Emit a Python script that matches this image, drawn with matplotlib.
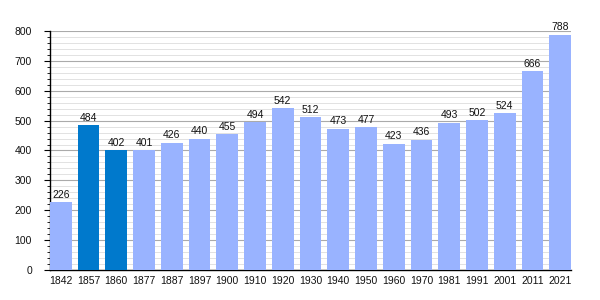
import matplotlib.pyplot as plt
from matplotlib.ticker import MultipleLocator

years = ['1842', '1857', '1860', '1877', '1887', '1897', '1900', '1910', '1920', '1930',
         '1940', '1950', '1960', '1970', '1981', '1991', '2001', '2011', '2021']
population = [226, 484, 402, 401, 426, 440, 455, 494, 542, 512,
              473, 477, 423, 436, 493, 502, 524, 666, 788]
highlight = ['1857', '1860']

plt.rcParams['font.family'] = ['Liberation Sans', 'DejaVu Sans']

fig = plt.figure(figsize=(6, 3), dpi=100)
ax = fig.add_axes([0.0833, 0.1, 0.8684, 0.7967])

colors = ['#0079cc' if y in highlight else '#99b3ff' for y in years]
x = range(len(years))
ax.bar(x, population, width=0.78, color=colors, zorder=3)

for xi, v in zip(x, population):
    ax.text(xi, v + 8, str(v), ha='center', va='bottom', fontsize=7.5, color='#111111', zorder=4)

ax.set_xlim(-0.39, len(years) - 0.61)
ax.set_ylim(0, 800)
ax.set_xticks(list(x))
ax.set_xticklabels(years)
ax.yaxis.set_major_locator(MultipleLocator(100))
ax.yaxis.set_minor_locator(MultipleLocator(20))
ax.grid(axis='y', which='major', color='#aaaaaa', linewidth=0.8, zorder=0)
ax.grid(axis='y', which='minor', color='#dddddd', linewidth=0.6, zorder=0)

ax.tick_params(axis='x', length=0, labelsize=7.5, pad=4, labelcolor='#111111')
ax.tick_params(axis='y', which='major', length=4, labelsize=7.5, direction='out', pad=9,
               labelcolor='#111111')
ax.tick_params(axis='y', which='minor', length=2, direction='out')

ax.spines['top'].set_visible(False)
ax.spines['right'].set_visible(False)
ax.spines['left'].set_linewidth(1)
ax.spines['bottom'].set_linewidth(1)

fig.savefig('out.png', dpi=100)
